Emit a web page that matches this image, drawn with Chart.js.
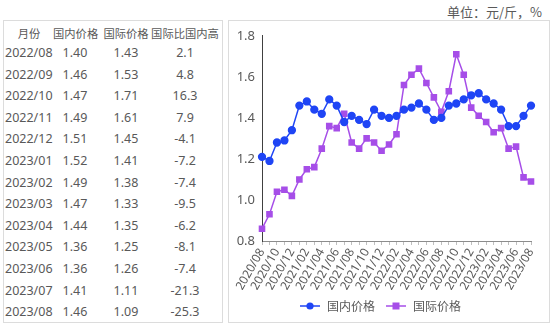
<!DOCTYPE html>
<html lang="zh-CN">
<head>
<meta charset="utf-8">
<title>国内外价格</title>
<script src="https://cdn.jsdelivr.net/npm/chart.js@4.4.1/dist/chart.umd.min.js"></script>
<style>
    html, body { margin: 0; padding: 0; }
    body { width: 554px; height: 327px; background: #fff; position: relative; overflow: hidden;
           font-family: "Noto Sans", "Noto Sans CJK SC", sans-serif; color: #595959; }
    .unidade { position: absolute; right: 12px; top: 3px; font-size: 13px; line-height: 18px; font-family: "Noto Sans CJK SC", sans-serif; }
    .tabela-box { position: absolute; left: 3px; top: 20px; width: 218px; height: 301px; border: 1px solid #dcdcdc; }
    .linha { position: absolute; left: 0; width: 218px; height: 20px; line-height: 20px; font-size: 12.5px; white-space: nowrap; }
    .linha span { position: absolute; top: 0; text-align: center; }
    .linha.cabecalho { font-size: 11.3px; font-family: "Noto Sans CJK SC", sans-serif; }
    .grafico-box { position: absolute; left: 228px; top: 20px; width: 320px; height: 301px; border: 1px solid #dcdcdc; }
    .grafico-box canvas { position: absolute; left: 0; top: 0; }
</style>
</head>
<body>
<div class="unidade">单位：元/斤，%</div>
<div class="tabela-box" id="tabela"></div>
<div class="grafico-box"><canvas id="grafico" width="320" height="301"></canvas></div>
<script>
const meses = ['2020/08', '2020/09', '2020/10', '2020/11', '2020/12', '2021/01', '2021/02', '2021/03', '2021/04',
    '2021/05', '2021/06', '2021/07', '2021/08', '2021/09', '2021/10', '2021/11', '2021/12', '2022/01', '2022/02',
    '2022/03', '2022/04', '2022/05', '2022/06', '2022/07', '2022/08', '2022/09', '2022/10', '2022/11', '2022/12',
    '2023/01', '2023/02', '2023/03', '2023/04', '2023/05', '2023/06', '2023/07', '2023/08'];
const precoInterno = [1.21, 1.19, 1.28, 1.29, 1.34, 1.46, 1.48, 1.44, 1.42, 1.49, 1.46, 1.38, 1.41, 1.39, 1.37,
    1.44, 1.41, 1.40, 1.41, 1.44, 1.45, 1.47, 1.44, 1.39, 1.40, 1.46, 1.47, 1.49, 1.51, 1.52, 1.49, 1.47, 1.44,
    1.36, 1.36, 1.41, 1.46];
const precoExterno = [0.86, 0.93, 1.04, 1.05, 1.02, 1.10, 1.15, 1.16, 1.25, 1.36, 1.35, 1.42, 1.28, 1.25, 1.30,
    1.28, 1.24, 1.27, 1.32, 1.56, 1.61, 1.64, 1.57, 1.50, 1.43, 1.53, 1.71, 1.61, 1.45, 1.41, 1.38, 1.33, 1.35,
    1.25, 1.26, 1.11, 1.09];

// tabela: últimos 13 meses
const cabecalho = ['月份', '国内价格', '国际价格', '国际比国内高'];
const tabelaMeses = ['2022/08', '2022/09', '2022/10', '2022/11', '2022/12', '2023/01', '2023/02', '2023/03',
    '2023/04', '2023/05', '2023/06', '2023/07', '2023/08'];
const tabelaInterno = ['1.40', '1.46', '1.47', '1.49', '1.51', '1.52', '1.49', '1.47', '1.44', '1.36', '1.36', '1.41', '1.46'];
const tabelaExterno = ['1.43', '1.53', '1.71', '1.61', '1.45', '1.41', '1.38', '1.33', '1.35', '1.25', '1.26', '1.11', '1.09'];
const tabelaDiferenca = ['2.1', '4.8', '16.3', '7.9', '-4.1', '-7.2', '-7.4', '-9.5', '-6.2', '-8.1', '-7.4', '-21.3', '-25.3'];

// colunas: [esquerda, largura]
const colunas = [[0, 50], [49, 44], [95, 54], [146, 70]];
const linhaHtml = (cels, top, classe) => `<div class="linha ${classe}" style="top:${top}px">` +
    cels.map((c, j) => j === 0 && classe !== 'cabecalho'
        ? `<span style="left:1px;text-align:left">${c}</span>`
        : `<span style="left:${colunas[j][0]}px;width:${colunas[j][1]}px">${c}</span>`).join('') + '</div>';

let html = linhaHtml(cabecalho, 2, 'cabecalho');
tabelaMeses.forEach((m, i) => {
    html += linhaHtml([m, tabelaInterno[i], tabelaExterno[i], tabelaDiferenca[i]], Math.round(22 + i * 21.6), '');
});
document.getElementById('tabela').innerHTML = html;

const corAzul = '#1f45f5';
const corRoxa = '#a64ee8';

// ícone da legenda: linha com marcador
function iconeLegenda(cor, estilo) {
    const c = document.createElement('canvas');
    c.width = 22; c.height = 10;
    const ctx = c.getContext('2d');
    ctx.strokeStyle = cor; ctx.fillStyle = cor; ctx.lineWidth = 1.5;
    ctx.beginPath(); ctx.moveTo(1, 5); ctx.lineTo(21, 5); ctx.stroke();
    if (estilo === 'circle') { ctx.beginPath(); ctx.arc(11, 5, 3.6, 0, Math.PI * 2); ctx.fill(); }
    else ctx.fillRect(7.5, 1.5, 7, 7);
    return c;
}

Chart.defaults.font.family = '"Noto Sans", "Noto Sans CJK SC", sans-serif';
Chart.defaults.color = '#595959';

new Chart(document.getElementById('grafico').getContext('2d'), {
    type: 'line',
    data: {
        labels: meses,
        datasets: [
            { label: '国内价格', data: precoInterno, borderColor: corAzul, backgroundColor: corAzul, borderWidth: 1.5,
              pointStyle: 'circle', pointRadius: 3.4, pointHoverRadius: 3.4, tension: 0 },
            { label: '国际价格', data: precoExterno, borderColor: corRoxa, backgroundColor: corRoxa, borderWidth: 1.5,
              pointStyle: 'rect', pointRadius: 3.6, pointHoverRadius: 3.6, tension: 0 },
        ]
    },
    options: {
        responsive: false, animation: false,
        layout: { padding: { top: 14, right: 18, left: 0, bottom: 0 } },
        plugins: {
            tooltip: { enabled: false },
            legend: {
                position: 'bottom',
                labels: {
                    usePointStyle: true, pointStyleWidth: 22, padding: 10,
                    font: { size: 12, family: '"Noto Sans CJK SC", sans-serif' },
                    generateLabels: chart => Chart.defaults.plugins.legend.labels.generateLabels(chart).map((item, i) => {
                        item.pointStyle = i === 0 ? iconeLegenda(corAzul, 'circle') : iconeLegenda(corRoxa, 'rect');
                        return item;
                    })
                }
            }
        },
        scales: {
            x: {
                afterFit: s => { s.height = 49; },
                grid: { drawOnChartArea: false, drawTicks: true, tickLength: 4, color: '#bfbfbf' },
                border: { color: '#8c8c8c' },
                ticks: { autoSkip: false, minRotation: 60, maxRotation: 60, padding: 1, font: { size: 12 },
                    callback: (v, i) => i % 2 === 0 ? meses[i] : '' }
            },
            y: {
                min: 0.8, max: 1.8,
                afterFit: s => { s.width = 33; },
                grid: { drawOnChartArea: false, drawTicks: false },
                border: { color: '#404040' },
                ticks: { stepSize: 0.2, padding: 7, font: { size: 13 }, callback: v => v.toFixed(1) }
            }
        }
    }
});
</script>
</body>
</html>
